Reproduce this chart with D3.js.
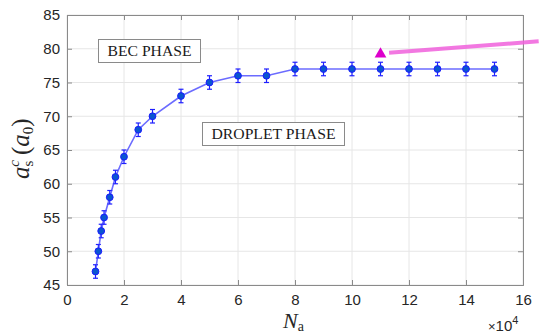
<!DOCTYPE html>
<html>
<head>
<meta charset="utf-8">
<script src="https://cdn.jsdelivr.net/npm/d3@7"></script>
<style>
  html, body { margin: 0; padding: 0; background: #fff; }
  svg { display: block; }
</style>
</head>
<body>
<div id="chart"></div>
<script>
// data (N_a in units of 10^4)
const nVals = [1.0, 1.1, 1.2, 1.3, 1.5, 1.7, 2.0, 2.5, 3, 4, 5, 6, 7, 8, 9, 10, 11, 12, 13, 14, 15];
const aVals = [47, 50, 53, 55, 58, 61, 64, 68, 70, 73, 75, 76, 76, 77, 77, 77, 77, 77, 77, 77, 77];
const aErr  = [1, 1, 1, 1, 1, 1, 1, 1, 1, 1, 1, 1, 1, 1, 1, 1, 1, 1, 1, 1, 1];
const xTicks = [0, 2, 4, 6, 8, 10, 12, 14, 16];
const yTicks = [45, 50, 55, 60, 65, 70, 75, 80, 85];
// magenta marker and pointer line
const markerPt = [11, 79.2];
const pointer = [[11.3, 79.4], [16.55, 81.1]];

const width = 539, height = 336;
const margin = { top: 15, right: 16, bottom: 51, left: 67 };

const svg = d3.select('#chart')
  .append('svg')
  .attr('width', width)
  .attr('height', height)
  .attr('viewBox', `0 0 ${width} ${height}`);

const x = d3.scaleLinear().domain([0, 16]).range([margin.left, width - margin.right]);
const y = d3.scaleLinear().domain([45, 85]).range([height - margin.bottom, margin.top]);

const x0 = x.range()[0], x1 = x.range()[1];
const y0 = y.range()[0], y1 = y.range()[1];

// grid
const grid = svg.append('g').attr('stroke', '#e6e6e6').attr('stroke-width', 1);
xTicks.forEach(t => {
  grid.append('line').attr('x1', x(t)).attr('x2', x(t)).attr('y1', y0).attr('y2', y1);
});
yTicks.forEach(t => {
  grid.append('line').attr('x1', x0).attr('x2', x1).attr('y1', y(t)).attr('y2', y(t));
});

// axes
const tickFont = 'Liberation Sans';
const xAxis = svg.append('g')
  .attr('transform', `translate(0,${y0})`)
  .call(d3.axisBottom(x).tickValues(xTicks).tickSize(-5).tickPadding(9));
const yAxis = svg.append('g')
  .attr('transform', `translate(${x0},0)`)
  .call(d3.axisLeft(y).tickValues(yTicks).tickSize(-5).tickPadding(7));
const xTop = svg.append('g')
  .attr('transform', `translate(0,${y1})`)
  .call(d3.axisTop(x).tickValues(xTicks).tickSize(-5).tickFormat(''));
const yRight = svg.append('g')
  .attr('transform', `translate(${x1},0)`)
  .call(d3.axisRight(y).tickValues(yTicks).tickSize(-5).tickFormat(''));

[xAxis, yAxis, xTop, yRight].forEach(g => {
  g.select('.domain').attr('stroke', '#8a8a8a');
  g.selectAll('.tick line').attr('stroke', '#8a8a8a');
  g.selectAll('.tick text')
    .attr('fill', '#262626')
    .attr('font-family', tickFont)
    .attr('font-size', 15);
});

// error bars
const eb = svg.append('g').attr('stroke', '#1f1fff').attr('stroke-width', 1.2);
nVals.forEach((n, i) => {
  const cx = x(n), top = y(aVals[i] + aErr[i]), bot = y(aVals[i] - aErr[i]);
  eb.append('line').attr('x1', cx).attr('x2', cx).attr('y1', top).attr('y2', bot);
  eb.append('line').attr('x1', cx - 2.5).attr('x2', cx + 2.5).attr('y1', top).attr('y2', top);
  eb.append('line').attr('x1', cx - 2.5).attr('x2', cx + 2.5).attr('y1', bot).attr('y2', bot);
});

// connecting line
const line = d3.line().x(d => x(d[0])).y(d => y(d[1]));
svg.append('path')
  .datum(nVals.map((n, i) => [n, aVals[i]]))
  .attr('d', line)
  .attr('fill', 'none')
  .attr('stroke', '#3a3aff')
  .attr('stroke-opacity', 0.75)
  .attr('stroke-width', 1.6);

// markers
svg.append('g')
  .selectAll('circle')
  .data(nVals)
  .join('circle')
  .attr('cx', d => x(d))
  .attr('cy', (d, i) => y(aVals[i]))
  .attr('r', 3.4)
  .attr('fill', '#0a55d0')
  .attr('stroke', '#1a1aff')
  .attr('stroke-width', 1);

// magenta triangle + pointer line
svg.append('path')
  .attr('d', d3.symbol(d3.symbolTriangle, 60)())
  .attr('transform', `translate(${x(markerPt[0])},${y(markerPt[1])})`)
  .attr('fill', '#dd00cc');
svg.append('path')
  .datum(pointer)
  .attr('d', line)
  .attr('stroke', '#f060dc')
  .attr('stroke-opacity', 0.85)
  .attr('stroke-width', 4)
  .attr('fill', 'none');

// phase labels
const serif = 'Liberation Serif';
function phaseBox(label, xl, yt, w, h, tl) {
  svg.append('rect')
    .attr('x', xl).attr('y', yt).attr('width', w).attr('height', h)
    .attr('fill', '#fff').attr('stroke', '#8a8a8a').attr('stroke-width', 1);
  svg.append('text')
    .attr('x', xl + w / 2).attr('y', yt + h / 2 + 5)
    .attr('text-anchor', 'middle')
    .attr('font-family', serif)
    .attr('font-size', 15)
    .attr('fill', '#1a1a1a')
    .attr('textLength', tl)
    .attr('lengthAdjust', 'spacingAndGlyphs')
    .text(label);
}
phaseBox('BEC PHASE', 98.5, 39.5, 102, 23, 84);
phaseBox('DROPLET PHASE', 202.5, 122.5, 142, 23, 124);

// axis labels
const xl = svg.append('text')
  .attr('x', 283).attr('y', 328)
  .attr('font-family', serif)
  .attr('fill', '#262626');
xl.append('tspan').attr('font-size', 22).attr('font-style', 'italic').text('N');
xl.append('tspan').attr('font-size', 14).attr('dy', 3).text('a');

const yl = svg.append('text')
  .attr('transform', 'translate(29,179) rotate(-90)')
  .attr('font-family', serif)
  .attr('fill', '#262626');
yl.append('tspan').attr('font-size', 25).attr('font-style', 'italic').text('a');
yl.append('tspan').attr('font-size', 15).attr('dy', 4).text('s');
yl.append('tspan').attr('font-size', 15).attr('font-style', 'italic').attr('dy', -14).attr('dx', -6).text('c');
yl.append('tspan').attr('font-size', 25).attr('dy', 10).attr('dx', 5).text('(');
yl.append('tspan').attr('font-size', 25).attr('font-style', 'italic').text('a');
yl.append('tspan').attr('font-size', 15).attr('dy', 4).text('0');
yl.append('tspan').attr('font-size', 25).attr('dy', -4).text(')');

// exponent label
const ex = svg.append('text')
  .attr('x', 488).attr('y', 331)
  .attr('font-family', tickFont)
  .attr('fill', '#262626');
ex.append('tspan').attr('font-size', 13).text('\u00d7');
ex.append('tspan').attr('font-size', 15).text('10');
ex.append('tspan').attr('font-size', 11).attr('dy', -7).text('4');
</script>
</body>
</html>
